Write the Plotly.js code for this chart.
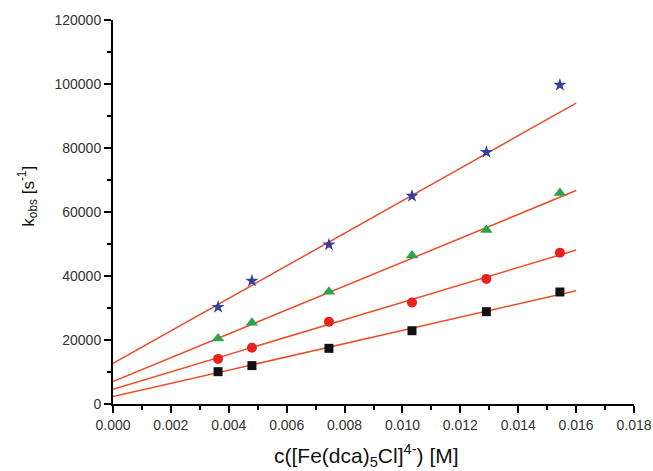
<!DOCTYPE html>
<html>
<head>
<meta charset="utf-8">
<script src="https://cdn.plot.ly/plotly-3.0.1.min.js"></script>
<style>html,body{margin:0;padding:0;background:#fff;}#chart{width:653px;height:471px;}</style>
</head>
<body>
<div id="chart"></div>
<script>
// concentration values [M]
const conc = [0.00363, 0.0048, 0.00746, 0.01033, 0.0129, 0.01544];
// kobs values [s^-1] for four series
const kSquares = [10100, 12000, 17400, 22900, 28850, 35000];
const kCircles = [14100, 17600, 25700, 31700, 39100, 47300];
const kTriangles = [20500, 25400, 35100, 46400, 54400, 65900];
const kStars = [30300, 38500, 49800, 65000, 78700, 99700];
// linear fit line endpoints
const fitX = [0, 0.016];
const fitSquares = [2300, 35400];
const fitCircles = [4600, 48100];
const fitTriangles = [7000, 66700];
const fitStars = [12700, 94000];

const xTitle = 'c([Fe(dca)<sub>5</sub>Cl]<sup>4-</sup>) [M]';
const yTitle = 'k<sub>obs</sub> [s<sup>-1</sup>]';

const lineColor = '#e8502a';
const fits = [fitSquares, fitCircles, fitTriangles, fitStars];
const traces = fits.map(f => ({
  x: fitX, y: f, mode: 'lines', type: 'scatter',
  line: {color: lineColor, width: 1.5}, hoverinfo: 'skip'
}));
const pts = [
  {y: kSquares, symbol: 'square', color: '#111111', size: 9},
  {y: kCircles, symbol: 'circle', color: '#e8231e', size: 10},
  {y: kTriangles, symbol: 'triangle-up', color: '#2ea44a', size: 11},
  {y: kStars, symbol: 'star', color: '#3440a0', size: 10}
];
pts.forEach(p => traces.push({
  x: conc, y: p.y, mode: 'markers', type: 'scatter',
  marker: {symbol: p.symbol, color: p.color, size: p.size, line: {width: 0}}
}));

const fam = 'Liberation Sans, Arial, sans-serif';
const tickFont = {family: fam, size: 14, color: '#333333'};
const layout = {
  width: 653, height: 471,
  margin: {l: 113, r: 19, t: 20, b: 67},
  paper_bgcolor: '#ffffff', plot_bgcolor: '#ffffff',
  showlegend: false,
  xaxis: {
    range: [0, 0.018], dtick: 0.002, tickformat: '.3f',
    showgrid: false, zeroline: false,
    showline: true, linecolor: '#000', linewidth: 2,
    ticks: 'outside', ticklen: 7, tickwidth: 2, tickcolor: '#000',
    minor: {dtick: 0.001, ticks: 'outside', ticklen: 4, tickwidth: 2, tickcolor: '#000', showgrid: false},
    tickfont: tickFont
  },
  yaxis: {
    range: [0, 120000], dtick: 20000, tickformat: 'd',
    showgrid: false, zeroline: false,
    showline: true, linecolor: '#000', linewidth: 2,
    ticks: 'outside', ticklen: 7, tickwidth: 2, tickcolor: '#000',
    minor: {dtick: 10000, ticks: 'outside', ticklen: 4, tickwidth: 2, tickcolor: '#000', showgrid: false},
    tickfont: tickFont
  },
  annotations: [
    {text: xTitle, xref: 'paper', yref: 'paper', x: 0.4875, y: -0.134,
     xanchor: 'center', yanchor: 'middle', showarrow: false,
     font: {family: fam, size: 21, color: '#111'}},
    {text: yTitle, xref: 'paper', yref: 'paper', x: -0.163, y: 0.54,
     xanchor: 'center', yanchor: 'middle', showarrow: false, textangle: -90,
     font: {family: fam, size: 17, color: '#111'}}
  ]
};
Plotly.newPlot('chart', traces, layout, {displayModeBar: false, staticPlot: true});
</script>
</body>
</html>
